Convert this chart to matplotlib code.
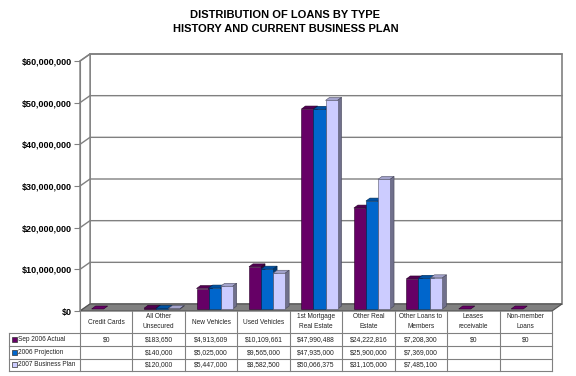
import matplotlib
matplotlib.use("Agg")
import matplotlib.pyplot as plt
import matplotlib.colors as mcolors
from matplotlib.patches import Polygon, Rectangle
from matplotlib.ticker import FuncFormatter

plt.rcParams['font.family'] = ['Liberation Sans', 'DejaVu Sans']

# data
categories = ["Credit Cards", "All Other Unsecured", "New Vehicles", "Used Vehicles",
              "1st Mortgage Real Estate", "Other Real Estate", "Other Loans to Members",
              "Leases receivable", "Non-member Loans"]
table_labels = ["Credit Cards", "All Other\nUnsecured", "New Vehicles", "Used Vehicles",
                "1st Mortgage\nReal Estate", "Other Real\nEstate", "Other Loans to\nMembers",
                "Leases\nreceivable", "Non-member\nLoans"]
series_names = ["Sep 2006 Actual", "2006 Projection", "2007 Business Plan"]
sep_2006_actual = [0, 183650, 4913609, 10109661, 47990488, 24222816, 7208300, 0, 0]
projection_2006 = [None, 140000, 5025000, 9565000, 47935000, 25900000, 7369000, None, None]
business_plan_2007 = [None, 120000, 5447000, 8582500, 50066375, 31105000, 7485100, None, None]
series = [sep_2006_actual, projection_2006, business_plan_2007]
colors = ["#660066", "#0066cc", "#ccccff"]
yticks = [0, 10e6, 20e6, 30e6, 40e6, 50e6, 60e6]

W, H = 576, 376
fig = plt.figure(figsize=(W / 100, H / 100), dpi=100)
ax = fig.add_axes([80 / W, 65 / H, 472 / W, 250 / H])
n = len(categories)
x0, x1 = -0.5, n - 0.5
ymax = 60e6
ax.set_xlim(x0, x1)
ax.set_ylim(0, ymax)

# data units per pixel
px_x = n / 472
px_y = ymax / 250


def shade(c, f):
    r, g, b = mcolors.to_rgb(c)
    return (r * f, g * f, b * f)


grid_c = "#808080"
# walls (pseudo 3d)
wdx, wdy = 10 * px_x, 7 * px_y
ax.add_patch(Rectangle((x0 + wdx, wdy), x1 - x0, ymax, fc="white", ec=grid_c,
                       lw=1.2, clip_on=False, zorder=0))
ax.add_patch(Polygon([(x0, 0), (x0 + wdx, wdy), (x0 + wdx, ymax + wdy), (x0, ymax)],
                     closed=True, fc="white", ec=grid_c, lw=1, clip_on=False, zorder=0))
for v in yticks[1:]:
    ax.plot([x0, x0 + wdx, x1 + wdx], [v, v + wdy, v + wdy], color=grid_c, lw=1,
            clip_on=False, zorder=1)
ax.add_patch(Polygon([(x0, 0), (x1, 0), (x1 + wdx, wdy), (x0 + wdx, wdy)], closed=True,
                     fc="#808080", ec="#505050", lw=0.8, clip_on=False, zorder=1.5))

# bars
bw = 0.23
fdx, fdy = 3.5 * px_x, 2 * px_y
bdx, bdy = 4 * px_x, 3 * px_y
for k, vals in enumerate(series):
    xs = [i - bw + k * bw + fdx for i in range(n)]
    hs = [v if v is not None else 0 for v in vals]
    bars = ax.bar(xs, hs, bw, bottom=fdy, color=colors[k], ec=shade(colors[k], 0.4),
                  lw=0.4, clip_on=False)
    for i, (b, v) in enumerate(zip(bars, vals)):
        z = 3 + (i * 3 + k) * 0.01
        b.set_zorder(z + 0.004)
        if not v:
            b.set_visible(False)
        if v is None:
            continue
        xl = xs[i] - bw / 2
        xr = xl + bw
        yt = v + fdy
        ax.add_patch(Polygon([(xl, yt), (xr, yt), (xr + bdx, yt + bdy), (xl + bdx, yt + bdy)],
                             closed=True, fc=shade(colors[k], 0.8 if v else 1.0),
                             ec=shade(colors[k], 0.4), lw=0.4, clip_on=False, zorder=z))
        if v > 0:
            ax.add_patch(Polygon([(xr, fdy), (xr + bdx, fdy + bdy), (xr + bdx, yt + bdy), (xr, yt)],
                                 closed=True, fc=shade(colors[k], 0.55),
                                 ec=shade(colors[k], 0.35), lw=0.4, clip_on=False, zorder=z + 0.002))

ax.set_yticks(yticks)
ax.yaxis.set_major_formatter(FuncFormatter(lambda v, p: "${:,.0f}".format(v)))
ax.set_xticks([])
ax.tick_params(axis="y", length=4, color=grid_c, labelsize=6.5, pad=2)
for lbl in ax.get_yticklabels():
    lbl.set_fontweight("bold")
for s in ["top", "right", "bottom"]:
    ax.spines[s].set_visible(False)
ax.spines["left"].set_color(grid_c)
ax.spines["left"].set_zorder(2)
ax.patch.set_visible(False)

# data table below the chart
tax = fig.add_axes([80 / W, 5 / H, 472 / W, 60 / H])
tax.set_xlim(x0, x1)
tax.set_ylim(60, 0)
tax.axis("off")
rows = [0, 22, 35, 47.5, 60]
xleg = x0 - 71 * px_x
lc = "#808080"
for j in range(n + 1):
    tax.plot([x0 + j, x0 + j], [0, 60], color=lc, lw=0.8, clip_on=False)
tax.plot([xleg, xleg], [rows[1], 60], color=lc, lw=0.8, clip_on=False)
for y in rows[1:]:
    tax.plot([xleg, x1], [y, y], color=lc, lw=0.8, clip_on=False)
for i, lab in enumerate(table_labels):
    tax.text(i, 11, lab, ha="center", va="center", fontsize=4.7, linespacing=1.6,
             color="#222222")
for k, vals in enumerate(series):
    yc = (rows[k + 1] + rows[k + 2]) / 2
    tax.add_patch(Rectangle((xleg + 3 * px_x, yc - 2.5), 5 * px_x, 5, fc=colors[k],
                            ec="#333333", lw=0.5, clip_on=False))
    tax.text(xleg + 9.5 * px_x, yc, series_names[k], ha="left", va="center",
             fontsize=4.7, color="#222222")
    for i, v in enumerate(vals):
        if v is not None:
            tax.text(i, yc, "${:,.0f}".format(v), ha="center", va="center",
                     fontsize=4.9, color="#222222")

fig.text(285.5 / W, 1 - 15.5 / H, "DISTRIBUTION OF LOANS BY TYPE", ha="center",
         va="center", fontsize=8, fontweight="bold")
fig.text(285.5 / W, 1 - 29.5 / H, "HISTORY AND CURRENT BUSINESS PLAN", ha="center",
         va="center", fontsize=8, fontweight="bold")

fig.savefig("out.png", dpi=100)
